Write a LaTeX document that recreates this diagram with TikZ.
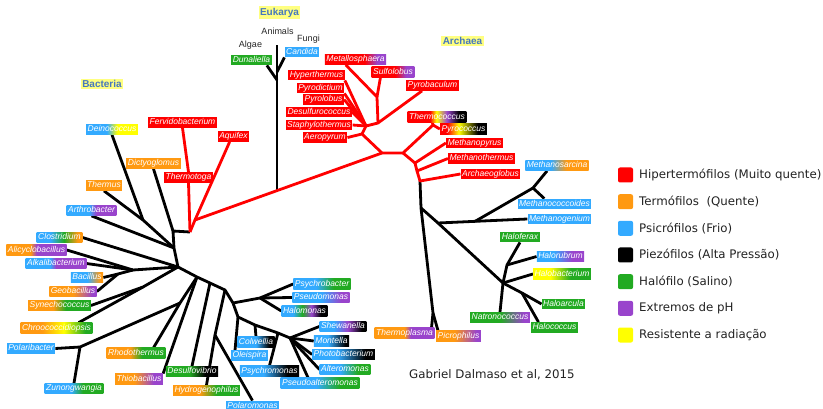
\documentclass[tikz,border=0pt]{standalone}
\usepackage{fontspec}
\setmainfont{Liberation Sans}
\newfontfamily\dejavu{DejaVu Sans}
\usetikzlibrary{calc}
\pgfdeclarelayer{bg}
\pgfsetlayers{bg,main}
\definecolor{cR}{RGB}{255,0,0}
\definecolor{cO}{RGB}{255,153,17}
\definecolor{cB}{RGB}{51,170,255}
\definecolor{cK}{RGB}{0,0,0}
\definecolor{cG}{RGB}{34,170,34}
\definecolor{cP}{RGB}{153,68,204}
\definecolor{cY}{RGB}{255,255,0}
\definecolor{tY}{RGB}{255,255,128}
\definecolor{tB}{RGB}{70,120,190}
\definecolor{legtxt}{RGB}{34,34,34}
\newcommand\shtwo[5]{\pgfdeclarehorizontalshading{#1}{100bp}{color(0bp)=(#2); color(#4bp)=(#2); color(#5bp)=(#3); color(100bp)=(#3)}}
\shtwo{shMetal}{cR}{cP}{57.5}{67.5}
\shtwo{shSulfo}{cR}{cP}{52.5}{65}
\pgfdeclarehorizontalshading{shThermoc}{100bp}{color(0bp)=(cR); color(44bp)=(cR); color(49.5bp)=(cY); color(58.5bp)=(cP); color(68.5bp)=(cK); color(100bp)=(cK)}
\pgfdeclarehorizontalshading{shPyroc}{100bp}{color(0bp)=(cR); color(32.5bp)=(cR); color(45bp)=(cY); color(65bp)=(cK); color(100bp)=(cK)}
\shtwo{shMsar}{cB}{cO}{45}{57.5}
\shtwo{shHrub}{cB}{cP}{42.5}{62.5}
\shtwo{shHbac}{cY}{cG}{40}{57.5}
\shtwo{shNatr}{cG}{cP}{50}{70}
\shtwo{shTpla}{cO}{cP}{50}{55}
\shtwo{shPicr}{cO}{cP}{45}{70}
\shtwo{shDein}{cB}{cY}{45}{55}
\shtwo{shArth}{cB}{cP}{47.5}{55}
\pgfdeclarehorizontalshading{shClos}{100bp}{color(0bp)=(cB); color(40bp)=(cB); color(55bp)=(cG); color(70bp)=(cO); color(100bp)=(cO)}
\shtwo{shAlic}{cO}{cP}{45}{50}
\shtwo{shAlka}{cB}{cP}{45}{50}
\shtwo{shBaci}{cB}{cO}{50}{70}
\shtwo{shGeob}{cO}{cP}{50}{70}
\shtwo{shSyne}{cO}{cG}{45}{55}
\pgfdeclarehorizontalshading{shChro}{100bp}{color(0bp)=(cO); color(40bp)=(cO); color(55bp)=(cY); color(70bp)=(cG); color(100bp)=(cG)}
\shtwo{shZuno}{cB}{cG}{47.5}{57.5}
\shtwo{shRhod}{cO}{cG}{45}{55}
\shtwo{shThio}{cO}{cP}{45}{65}
\shtwo{shDesv}{cG}{cK}{47.5}{62.5}
\shtwo{shHydr}{cO}{cG}{45}{57.5}
\shtwo{shColw}{cB}{cK}{50}{67.5}
\shtwo{shPsym}{cB}{cK}{45}{65}
\shtwo{shPsyb}{cB}{cG}{45}{60}
\shtwo{shPsem}{cB}{cP}{50}{67.5}
\pgfdeclarehorizontalshading{shHalm}{100bp}{color(0bp)=(cB); color(37.5bp)=(cB); color(47.5bp)=(cG); color(57.5bp)=(cP); color(67.5bp)=(cK); color(100bp)=(cK)}
\pgfdeclarehorizontalshading{shShew}{100bp}{color(0bp)=(cB); color(40bp)=(cB); color(55bp)=(cP); color(70bp)=(cK); color(100bp)=(cK)}
\shtwo{shMont}{cB}{cK}{45}{70}
\shtwo{shPhot}{cB}{cK}{45}{67.5}
\shtwo{shAlte}{cB}{cG}{45}{62.5}
\shtwo{shPsal}{cB}{cG}{47.5}{62.5}
\begin{document}
\begin{tikzpicture}[x=1pt,y=-1pt,
  lab/.style={inner xsep=1.5pt, inner ysep=1.2pt, text height=6.2pt, text depth=1.8pt, text=white, font=\fontsize{8.5}{9}\selectfont\itshape},
  fR/.style={lab,fill=cR}, fO/.style={lab,fill=cO}, fB/.style={lab,fill=cB},
  fG/.style={lab,fill=cG},
  sh/.style={lab,shade,shading=#1},
  tl/.style={line width=2.8pt, line join=round, draw=black},
  rl/.style={line width=2.8pt, line join=round, draw=cR},
  title/.style={fill=tY, text=tB, font=\fontsize{10}{11}\selectfont\bfseries, inner xsep=1.5pt, inner ysep=1.5pt},
  plain/.style={font=\fontsize{9}{10}\selectfont, text=black!85, inner sep=0pt},
  legsq/.style={minimum size=15pt, inner sep=0pt, rounded corners=2pt},
  legtx/.style={anchor=west, font=\dejavu\fontsize{11.8}{13}\selectfont, text=legtxt, inner sep=0pt}]
\useasboundingbox (0,0) rectangle (823,409);
% ---------- titles ----------
\node[title] (eukT) at (279.5,12.5) {Eukarya};
\node[title] (archT) at (462.5,41) {Archaea};
\node[title] (bactT) at (102,84) {Bacteria};
% ---------- Eukarya ----------
\node[plain] (animals) at (277.5,31) {Animals};
\node[plain] (fungi) at (308.5,39) {Fungi};
\node[plain] (algae) at (250.5,45) {Algae};
\node[fB] (candida) at (302,52) {Candida};
\node[fG] (dunal) at (251.5,60) {Dunaliella};
% ---------- Archaea red ----------
\node[sh=shMetal] (metal) at (355.5,59.5) {Metallosphaera};
\node[sh=shSulfo] (sulfo) at (393,72) {Sulfolobus};
\node[fR] (pyroba) at (432.5,85.5) {Pyrobaculum};
\node[fR] (hyper) at (316.5,75) {Hyperthermus};
\node[fR] (pyrod) at (320.5,88) {Pyrodictium};
\node[fR] (pyrol) at (323.5,99.5) {Pyrolobus};
\node[fR] (desulfu) at (319,112) {Desulfurococcus};
\node[fR] (staph) at (319,125) {Staphylothermus};
\node[fR] (aero) at (325,137.5) {Aeropyrum};
\node[sh=shThermoc] (thermoc) at (437,117) {Thermococcus};
\node[sh=shPyroc] (pyroc) at (463.5,129) {Pyrococcus};
\node[fR] (mpyrus) at (474.5,143) {Methanopyrus};
\node[fR] (mtherm) at (481.5,158.5) {Methanothermus};
\node[fR] (archaeo) at (490.5,174) {Archaeoglobus};
% ---------- Archaea black ----------
\node[sh=shMsar] (msar) at (557,165.5) {Methanosarcina};
\node[fB] (mcoc) at (554.5,204) {Methanococcoides};
\node[fB] (mgen) at (559.5,219) {Methanogenium};
\node[fG] (hfer) at (520,237) {Haloferax};
\node[sh=shHrub] (hrub) at (560.5,256.5) {Halorubrum};
\node[sh=shHbac] (hbac) at (562,274) {Halobacterium};
\node[fG] (harc) at (563.5,304) {Haloarcula};
\node[fG] (hcoc) at (554.5,327.5) {Halococcus};
\node[sh=shNatr] (natr) at (500,317.5) {Natronococcus};
\node[sh=shPicr] (picr) at (458.5,336) {Picrophilus};
\node[sh=shTpla] (tpla) at (404.5,333) {Thermoplasma};
% ---------- Bacteria ----------
\node[sh=shDein] (dein) at (112,129.5) {Deinococcus};
\node[fR] (ferv) at (182.5,122.5) {Fervidobacterium};
\node[fR] (aqui) at (233.5,136.5) {Aquifex};
\node[fO] (dict) at (153.5,163.5) {Dictyoglomus};
\node[fR] (ttog) at (188.5,177.5) {Thermotoga};
\node[fO] (ther) at (104,185.5) {Thermus};
\node[sh=shArth] (arth) at (91.5,210.5) {Arthrobacter};
\node[sh=shClos] (clos) at (59.5,237.5) {Clostridium};
\node[sh=shAlic] (alic) at (36.5,250) {Alicyclobacillus};
\node[sh=shAlka] (alka) at (56,263.5) {Alkalibacterium};
\node[sh=shBaci] (baci) at (87,277.5) {Bacillus};
\node[sh=shGeob] (geob) at (73,291.5) {Geobacillus};
\node[sh=shSyne] (syne) at (59.5,305.5) {Synechococcus};
\node[sh=shChro] (chro) at (56.5,328) {Chroococcidiopsis};
\node[fB] (pola) at (31,348.5) {Polaribacter};
\node[sh=shZuno] (zuno) at (74,388.5) {Zunongwangia};
\node[sh=shRhod] (rhod) at (136,353) {Rhodothermus};
\node[sh=shThio] (thio) at (139,379) {Thiobacillus};
\node[sh=shDesv] (desv) at (192,371.5) {Desulfovibrio};
\node[sh=shHydr] (hydr) at (206.5,390.5) {Hydrogenophilus};
\node[fB] (polm) at (252.5,406) {Polaromonas};
\node[sh=shColw] (colw) at (256,342) {Colwellia};
\node[fB] (olei) at (249.5,355.5) {Oleispira};
\node[sh=shPsym] (psym) at (269.5,371) {Psychromonas};
\node[sh=shPsyb] (psyb) at (322,284) {Psychrobacter};
\node[sh=shPsem] (psem) at (321,297.5) {Pseudomonas};
\node[sh=shHalm] (halm) at (304.5,311) {Halomonas};
\node[sh=shShew] (shew) at (343,326.5) {Shewanella};
\node[sh=shMont] (mont) at (331.5,341) {Montella};
\node[sh=shPhot] (phot) at (343.5,354.5) {Photobacterium};
\node[sh=shAlte] (alte) at (345,369.5) {Alteromonas};
\node[sh=shPsal] (psal) at (320,383) {Pseudoalteromonas};
% ---------- junctions ----------
\coordinate (J1) at (190,232);
\coordinate (J2) at (195,220);
\coordinate (J3) at (382,153);
\coordinate (J4) at (403,153);
\coordinate (EK0) at (277,190.6);
\coordinate (EK1) at (277,72);
\coordinate (EK2) at (277,80);
\coordinate (EKt) at (277,45);
\coordinate (C1) at (362,134);
\coordinate (C2) at (366,126);
\coordinate (C3) at (378,123);
\coordinate (C4) at (377,97);
\coordinate (T1) at (433,125);
\coordinate (M1) at (415,163);
\coordinate (M2) at (417,171);
\coordinate (A0) at (420,181);
\coordinate (E1) at (421,208);
\coordinate (E2) at (433,313);
\coordinate (E3) at (438,223);
\coordinate (E3b) at (475,221.4);
\coordinate (E4) at (533,188);
\coordinate (E5) at (503,283);
\coordinate (E6) at (507,265);
\coordinate (E7) at (522,293);
\coordinate (V2) at (173,231);
\coordinate (V1) at (174,248);
\coordinate (BJ) at (178,267);
\coordinate (BDT) at (143,220);
\coordinate (FJ) at (133,270);
\coordinate (BG) at (118,274);
\coordinate (SC) at (143,287);
\coordinate (BB1) at (197,277);
\coordinate (BB2) at (210,283);
\coordinate (BB3) at (225,290);
\coordinate (BB4) at (233,303);
\coordinate (RP) at (180,303);
\coordinate (PZ) at (80,347);
\coordinate (HP) at (215,335);
\coordinate (PM) at (260,298);
\coordinate (G2) at (238,317);
\coordinate (G3) at (255,325);
\coordinate (G4) at (278,333);
\coordinate (VJ) at (290,338);
% ---------- connectors ----------
\begin{pgfonlayer}{bg}
% Eukarya
\draw[tl] (EK0) -- (EKt);
\draw[tl] (EK1) -- (candida.south west);
\draw[tl] (EK2) -- ($(dunal.south east)+(-5,0)$);
% Bacteria black
\draw[tl] (J1) -- (V2) -- (V1) -- (BJ);
\draw[tl] (V2) -- (dict.south);
\draw[tl] (V1) -- (BDT) -- (dein.south);
\draw[tl] (BDT) -- (ther.south);
\draw[tl] (V1) -- (arth.south);
\draw[tl] (BJ) -- (clos.east);
\draw[tl] (BJ) -- (FJ) -- (alka.east);
\draw[tl] (FJ) -- (alic.east);
\draw[tl] (FJ) -- (BG) -- (baci.east);
\draw[tl] (BG) -- (geob.east);
\draw[tl] (BJ) -- (SC) -- (syne.east);
\draw[tl] (SC) -- ($(chro.north east)+(-14,0)$);
\draw[tl] (BJ) -- (BB1) -- (BB2) -- (BB3) -- (BB4);
\draw[tl] (BB1) -- (RP) -- ($(rhod.north east)+(-12,0)$);
\draw[tl] (RP) -- (PZ) -- (pola.east);
\draw[tl] (PZ) -- (zuno.north);
\draw[tl] (BB1) -- (thio.north east);
\draw[tl] (BB2) -- (desv.north);
\draw[tl] (BB3) -- (HP) -- (hydr.north);
\draw[tl] (HP) -- (polm.north);
\draw[tl] (BB4) -- (PM) -- (psyb.west);
\draw[tl] (PM) -- (psem.west);
\draw[tl] (PM) -- (halm.west);
\draw[tl] (BB4) -- (G2) -- (G3) -- (G4) -- (VJ);
\draw[tl] (G2) -- ($(olei.north west)+(4,0)$);
\draw[tl] (G3) -- (colw.north);
\draw[tl] (G4) -- (psym.north);
\draw[tl] (VJ) -- (shew.west);
\draw[tl] (VJ) -- (mont.west);
\draw[tl] (VJ) -- (phot.west);
\draw[tl] (VJ) -- (alte.west);
\draw[tl] (VJ) -- ($(psal.north)+(-12,0)$);
% Archaea black
\draw[tl] (A0) -- (E1) -- (E2) -- ($(tpla.north east)+(-3,0)$);
\draw[tl] (E2) -- ($(picr.north west)+(2,0)$);
\draw[tl] (E1) -- (E3) -- (mgen.west);
\draw[tl] (E3b) -- (E4) -- ($(msar.south west)+(22,0)$);
\draw[tl] (E4) -- ($(mcoc.north west)+(27,0)$);
\draw[tl] (E3) -- (E5) -- (E6) -- (hfer.south);
\draw[tl] (E6) -- (hrub.west);
\draw[tl] (E5) -- (hbac.west);
\draw[tl] (E5) -- (natr.north);
\draw[tl] (E5) -- (E7) -- (harc.west);
\draw[tl] (E7) -- ($(hcoc.north)+(-16,0)$);
% red
\draw[rl] (J1) -- (ttog.south);
\draw[rl] (ttog.north) -- (ferv.south);
\draw[rl] (J1) -- (J2) -- (J3);
\draw[rl] (J2) -- ($(aqui.south west)+(12,0)$);
\draw[rl] (J3) -- (C1) -- (aero.east);
\draw[rl] (C1) -- (C2) -- (C3) -- ($(pyroba.south west)+(16,0)$);
\draw[rl] (C3) -- (C4) -- ($(metal.south west)+(21,0)$);
\draw[rl] (C4) -- ($(sulfo.south west)+(9,0)$);
\draw[rl] (C2) -- (hyper.south east);
\draw[rl] (C2) -- (pyrod.south east);
\draw[rl] (C2) -- (pyrol.east);
\draw[rl] (C2) -- (desulfu.east);
\draw[rl] (C2) -- (staph.east);
\draw[rl] (J3) -- (J4) -- (T1) -- ($(thermoc.south west)+(25,0)$);
\draw[rl] (T1) -- (pyroc.west);
\draw[rl] (J4) -- (M1) -- (mpyrus.west);
\draw[rl] (M1) -- (M2) -- (mtherm.west);
\draw[rl] (M2) -- (A0) -- (archaeo.west);
\end{pgfonlayer}
% ---------- legend ----------
\node[legsq,fill=cR] (q1) at (625.5,175) {};
\node[legsq,fill=cO] (q2) at (625.5,201.7) {};
\node[legsq,fill=cB] (q3) at (625.5,228.3) {};
\node[legsq,fill=cK] (q4) at (625.5,255) {};
\node[legsq,fill=cG] (q5) at (625.5,281.7) {};
\node[legsq,fill=cP] (q6) at (625.5,308.3) {};
\node[legsq,fill=cY] (q7) at (625.5,335) {};
\node[legtx] (t1) at (639,175) {Hipertermófilos (Muito quente)};
\node[legtx] (t2) at (639,201.7) {Termófilos\ \ (Quente)};
\node[legtx] (t3) at (639,228.3) {Psicrófilos (Frio)};
\node[legtx] (t4) at (639,255) {Piezófilos (Alta Pressão)};
\node[legtx] (t5) at (639,281.7) {Halófilo (Salino)};
\node[legtx] (t6) at (639,308.3) {Extremos de pH};
\node[legtx] (t7) at (639,335) {Resistente a radiação};
\node[legtx] (credit) at (409,375) {Gabriel Dalmaso et al, 2015};
\end{tikzpicture}
\end{document}
